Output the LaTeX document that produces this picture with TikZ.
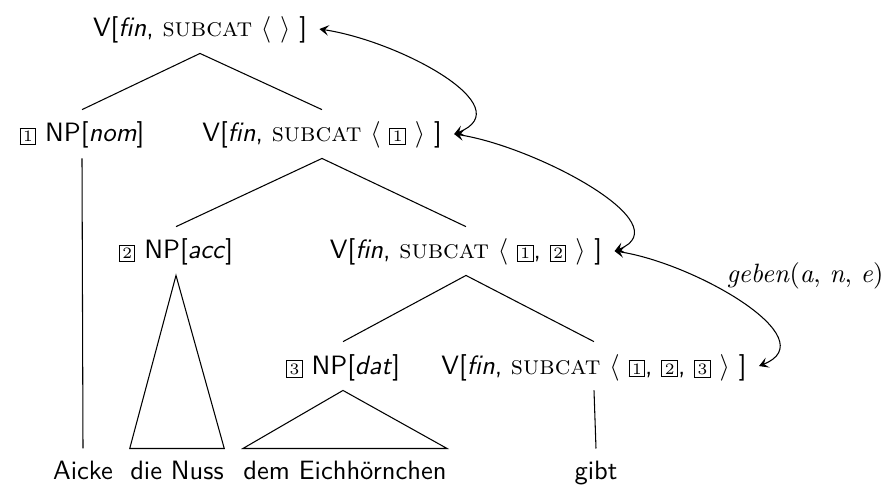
\documentclass[tikz,border=0pt]{standalone}
\usetikzlibrary{arrows.meta}
\newcommand{\tagbx}[1]{{\setlength{\fboxsep}{0.9pt}\setlength{\fboxrule}{0.4pt}\fbox{\rmfamily\fontsize{6}{7}\selectfont #1}}}
\newcommand{\subcatsc}{\textrm{\textsc{subcat}}}
\begin{document}
\begin{tikzpicture}[x=0.377pt,y=-0.377pt,
  cat/.style={font=\sffamily, anchor=base, text height=8pt, text depth=2pt, inner xsep=4.5pt, inner ysep=4pt},
  word/.style={font=\sffamily, anchor=base, text height=8pt, text depth=2pt, inner xsep=0pt, inner ysep=3.3pt},
  edge/.style={line width=0.4pt},
  link/.style={line width=0.4pt, {Stealth[length=3.5pt,width=4pt,inset=1.5pt]}-{Stealth[length=3.5pt,width=4pt,inset=1.5pt]}}
]
\useasboundingbox (0,0) rectangle (887,485);

% categories
\node[cat] (root) at (200,37) {V[\textit{fin}, \subcatsc{} $\langle\ \rangle$ ]};
\node[cat] (nom) at (82,142) {\tagbx{1} NP[\textit{nom}]};
\node[cat] (v2) at (322,142) {V[\textit{fin}, \subcatsc{} $\langle$ \tagbx{1} $\rangle$ ]};
\node[cat] (acc) at (176,259) {\tagbx{2} NP[\textit{acc}]};
\node[cat] (v3) at (466,259) {V[\textit{fin}, \subcatsc{} $\langle$ \tagbx{1}, \tagbx{2} $\rangle$ ]};
\node[cat] (dat) at (343,374) {\tagbx{3} NP[\textit{dat}]};
\node[cat] (v4) at (594,374) {V[\textit{fin}, \subcatsc{} $\langle$ \tagbx{1}, \tagbx{2}, \tagbx{3} $\rangle$ ]};

% words
\node[word] (aicke) at (83,479) {Aicke};
\node[word] (nuss) at (177,479) {die Nuss};
\node[word] (eich) at (345,479) {dem Eichhörnchen};
\node[word] (gibt) at (596,479) {gibt};

% tree edges
\draw[edge] (nom.north) -- (root.south) -- (v2.north);
\draw[edge] (acc.north) -- (v2.south) -- (v3.north);
\draw[edge] (dat.north) -- (v3.south) -- (v4.north);
\draw[edge] (nom.south) -- (aicke.north);
\draw[edge] (v4.south) -- (gibt.north);
\draw[edge] (acc.south) -- (nuss.north west) -- (nuss.north east) -- cycle;
\draw[edge] (dat.south) -- (eich.north west) -- (eich.north east) -- cycle;

% subcat links
\draw[link] (root.east) .. controls +(80,12) and +(68,-27) .. (v2.east);
\draw[link] (v2.east) .. controls +(80,12) and +(68,-27) .. (v3.east);
\draw[link] (v3.east) .. controls +(80,12) and +(68,-27) .. (v4.east);

\node (gb) at (805,276) {\textit{geben}(\textit{a}, \textit{n}, \textit{e})};
\end{tikzpicture}
\end{document}
